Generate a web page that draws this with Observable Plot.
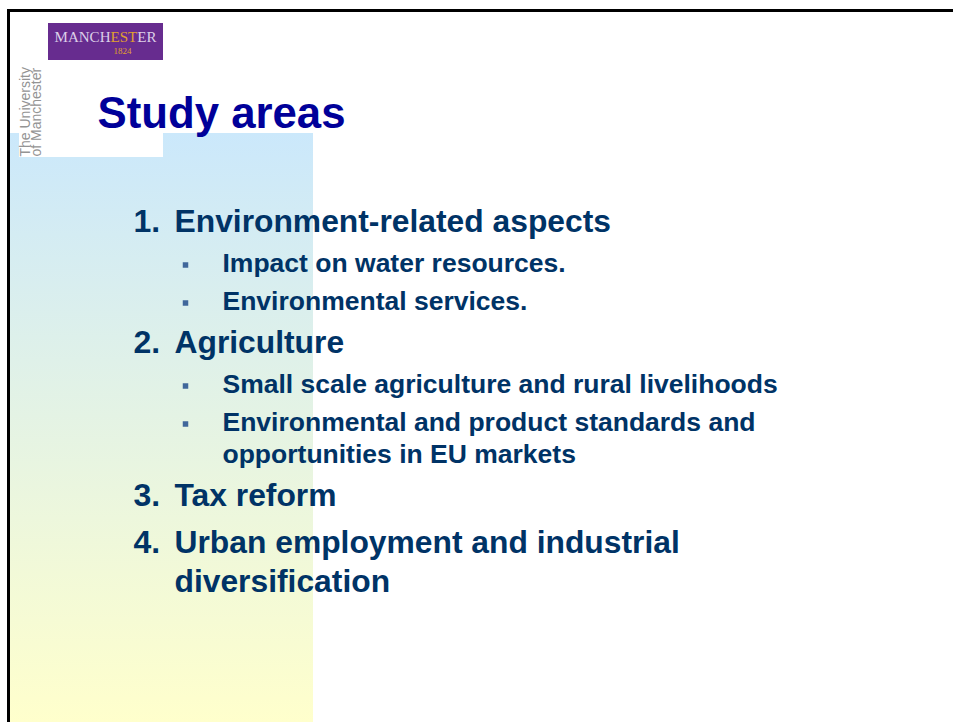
<!DOCTYPE html>
<html>
<head>
<meta charset="utf-8">
<script src="https://cdn.jsdelivr.net/npm/d3@7"></script>
<script src="https://cdn.jsdelivr.net/npm/@observablehq/plot@0.6"></script>
<style>
  html, body { margin: 0; padding: 0; background: #ffffff; }
  #chart svg { display: block; }
</style>
</head>
<body>
<div id="chart"></div>
<script>
// ---- content ----
const titleText = ["Study areas"];
const lineText = [
  "Environment-related aspects",
  "Impact on water resources.",
  "Environmental services.",
  "Agriculture",
  "Small scale agriculture and rural livelihoods",
  "Environmental and product standards and",
  "opportunities in EU markets",
  "Tax reform",
  "Urban employment and industrial",
  "diversification"
];
const lineLevel = [1, 2, 2, 1, 2, 2, 2, 1, 1, 1];
const lineNumber = ["1.", "", "", "2.", "", "", "", "3.", "4.", ""];
const lineContinues = [false, false, false, false, false, false, true, false, false, true];
const logoWord = ["MANCHESTER"];
const logoYear = ["1824"];
const sideText = ["The University", "of Manchester"];

// ---- layout ----
const W = 953, H = 722;
const firstBaseline = 231;
// paragraph step depends on previous and current level; continuation lines use line height
const paraStep = {1: {1: 47, 2: 40}, 2: {1: 43, 2: 38}};
const contStep = {1: 39, 2: 32};
const textX = {1: 174, 2: 222};
const numberX = 133, bulletX = 185;

const lines = [];
let yb = firstBaseline;
lineText.forEach((t, i) => {
  const lvl = lineLevel[i];
  if (i > 0) yb += lineContinues[i] ? contStep[lvl] : paraStep[lineLevel[i - 1]][lvl];
  lines.push({text: t, level: lvl, num: lineNumber[i], cont: lineContinues[i], y: yb});
});
const level1 = lines.filter(d => d.level === 1);
const level2 = lines.filter(d => d.level === 2);
const numbered = lines.filter(d => d.num);
const bullets = lines.filter(d => d.level === 2 && !d.cont);

const panels = [
  {key: "grad", x1: 9, x2: 313, y1: 133, y2: H},
  {key: "white", x1: 19, x2: 163, y1: 23, y2: 157},
  {key: "logo", x1: 48, x2: 163, y1: 23, y2: 60}
];
const panelFill = {grad: "url(#slidebg)", white: "#ffffff", logo: "#672c8f"};

const svgNS = "http://www.w3.org/2000/svg";
function gradientDefs() {
  const defs = document.createElementNS(svgNS, "defs");
  const lg = document.createElementNS(svgNS, "linearGradient");
  lg.setAttribute("id", "slidebg");
  lg.setAttribute("x1", "0"); lg.setAttribute("y1", "0");
  lg.setAttribute("x2", "0"); lg.setAttribute("y2", "1");
  [["0%", "#cbe8fb"], ["100%", "#ffffcc"]].forEach(([o, c]) => {
    const s = document.createElementNS(svgNS, "stop");
    s.setAttribute("offset", o); s.setAttribute("stop-color", c);
    lg.appendChild(s);
  });
  defs.appendChild(lg);
  return defs;
}

const bodyFont = "Liberation Sans, Arial, Helvetica, sans-serif";
const navy = "#003366";
const gold = "#e0a030";
const lavender = "#dccfe8";

const chart = Plot.plot({
  width: W,
  height: H,
  margin: 0,
  x: {type: "linear", domain: [0, W], range: [0, W], axis: null},
  y: {type: "linear", domain: [0, H], range: [0, H], axis: null},
  style: {background: "#ffffff", fontFamily: bodyFont, overflow: "hidden"},
  marks: [
    gradientDefs,
    Plot.rect(panels, {x1: "x1", x2: "x2", y1: "y1", y2: "y2", fill: d => panelFill[d.key]}),
    // slide border (top and left edges visible)
    Plot.ruleY([10], {x1: 7, x2: W, stroke: "#000000", strokeWidth: 3}),
    Plot.ruleX([8], {y1: 9, y2: H, stroke: "#000000", strokeWidth: 3}),
    // logo
    Plot.text(logoWord, {x: () => 105, y: () => 41, text: d => d, fill: lavender, fontSize: 14,
      fontFamily: "Liberation Serif, Times New Roman, serif", textAnchor: "middle", lineAnchor: "bottom"}),
    Plot.text(logoYear, {x: () => 122, y: () => 53, text: d => d, fill: gold, fontSize: 9,
      fontFamily: "Liberation Serif, Times New Roman, serif", textAnchor: "middle", lineAnchor: "bottom"}),
    Plot.text(sideText, {x: (d, i) => 29 + i * 11, y: () => 156, text: d => d, rotate: -90,
      fill: "#949494", fontSize: 14, textAnchor: "start", lineAnchor: "bottom",
      fontFamily: "Liberation Sans Narrow, Liberation Sans, Arial, sans-serif"}),
    // title
    Plot.text(titleText, {x: () => 97, y: () => 127, text: d => d, fill: "#000099", fontSize: 44,
      fontWeight: "bold", textAnchor: "start", lineAnchor: "bottom"}),
    // numbers
    Plot.text(numbered, {x: () => numberX, y: "y", text: "num", fill: navy, fontSize: 32,
      fontWeight: "bold", textAnchor: "start", lineAnchor: "bottom"}),
    // level 1 lines
    Plot.text(level1, {x: () => textX[1], y: "y", text: "text", fill: navy, fontSize: 31.8,
      fontWeight: "bold", textAnchor: "start", lineAnchor: "bottom"}),
    // bullets
    Plot.dot(bullets, {x: () => bulletX, y: d => d.y - 6.5, symbol: "square", r: 3.1, fill: "#40679b", stroke: null}),
    // level 2 lines
    Plot.text(level2, {x: () => textX[2], y: "y", text: "text", fill: navy, fontSize: 26.5,
      fontWeight: "bold", textAnchor: "start", lineAnchor: "bottom"})
  ]
});

// post-process: colour the "EST" letters of the logo word gold; stretch title to its width
chart.querySelectorAll("text").forEach(el => {
  const s = el.textContent;
  if (s === logoWord[0]) {
    el.textContent = "";
    [[s.slice(0, 5), lavender], [s.slice(5, 8), gold], [s.slice(8), lavender]].forEach(([t, c]) => {
      const ts = document.createElementNS(svgNS, "tspan");
      ts.textContent = t;
      ts.setAttribute("fill", c);
      ts.style.fill = c;
      el.appendChild(ts);
    });
    el.setAttribute("textLength", "102");
    el.setAttribute("lengthAdjust", "spacingAndGlyphs");
  } else if (s === titleText[0]) {
    el.setAttribute("textLength", "248");
    el.setAttribute("lengthAdjust", "spacingAndGlyphs");
  }
});

document.getElementById("chart").appendChild(chart);
</script>
</body>
</html>
